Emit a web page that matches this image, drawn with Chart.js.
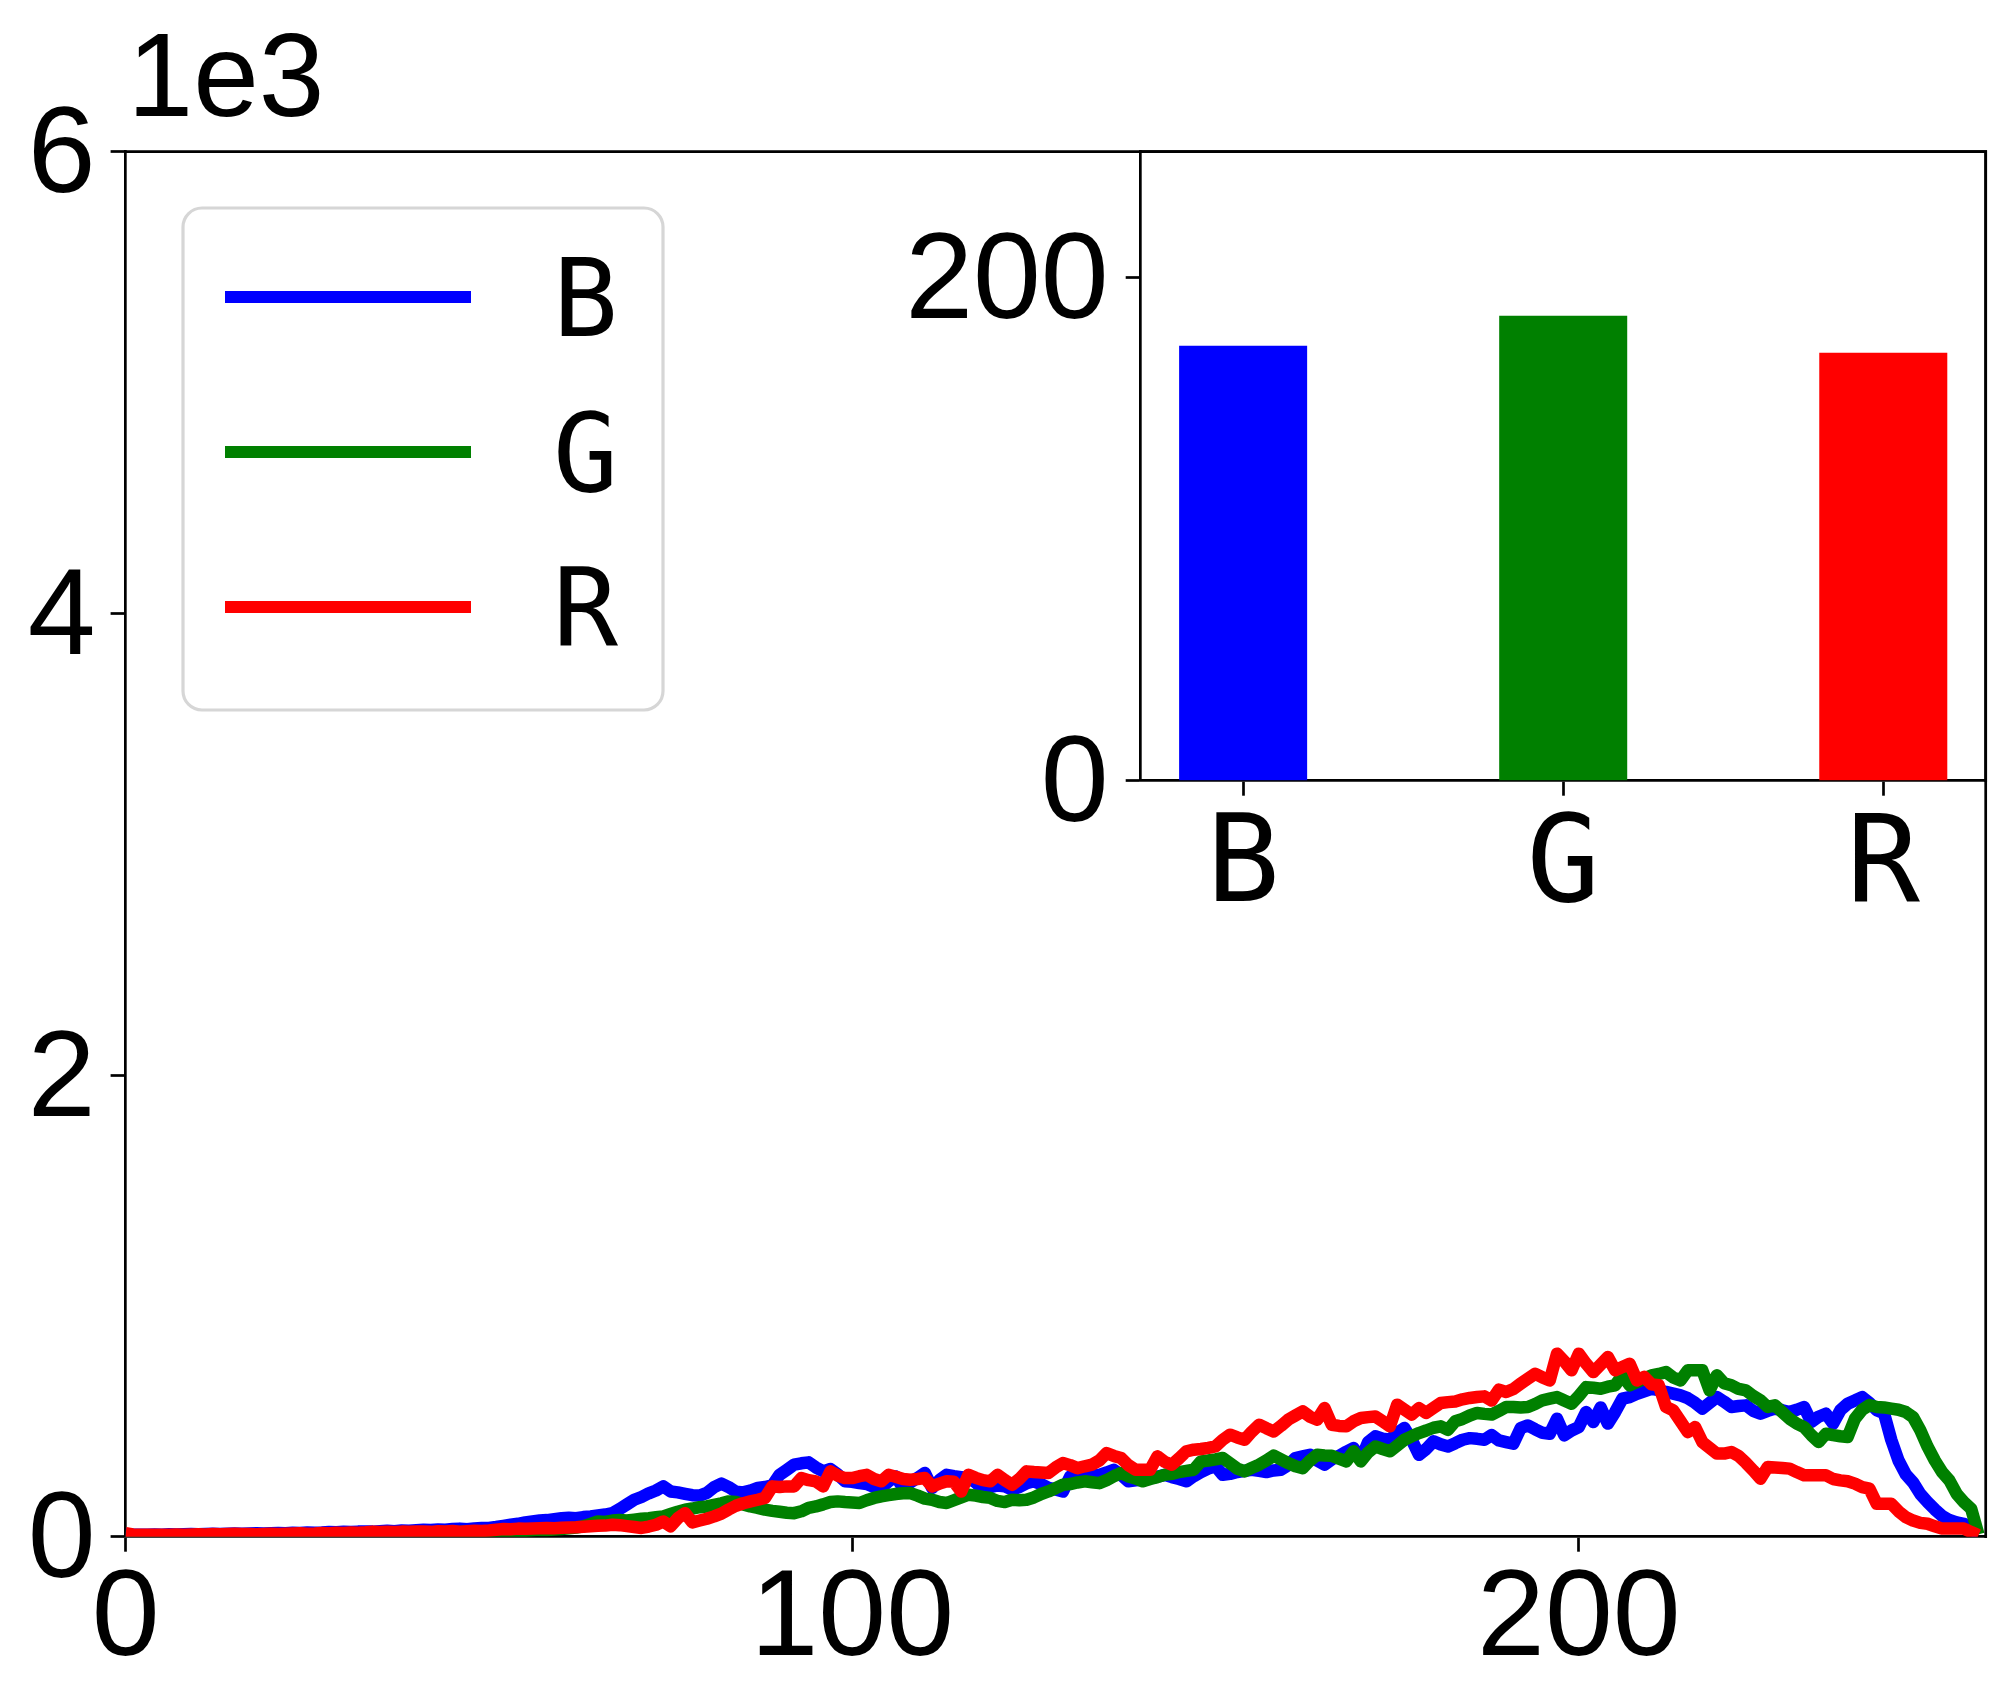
<!DOCTYPE html>
<html>
<head>
<meta charset="utf-8">
<script src="https://cdn.jsdelivr.net/npm/chart.js@4.4.1/dist/chart.umd.min.js"></script>
<style>
  body { margin: 0; background: #fff; }
  #wrap { position: relative; width: 2015px; height: 1705px; }
  #main-canvas { position: absolute; left: 0; top: 0; }
  #inset-canvas { position: absolute; left: 900px; top: 0; }
</style>
</head>
<body>
<div id="wrap">
  <canvas id="main-canvas" width="2015" height="1705"></canvas>
  <canvas id="inset-canvas" width="1115" height="1000"></canvas>
</div>
<script>
// ---------- data ----------
const channels = ['B', 'G', 'R'];
const channelColors = ['#0000ff', '#008000', '#ff0000'];

// pixel intensity bins 0..255 (x categories of the histogram)
const bins = Array.from({ length: 256 }, (_, i) => i);

const histB = [
  10, 9, 8, 9, 10, 9, 11, 10, 11, 12,
  11, 12, 13, 12, 13, 14, 13, 14, 15, 14,
  15, 16, 15, 17, 16, 18, 17, 18, 20, 19,
  21, 20, 22, 23, 22, 24, 26, 24, 27, 26,
  28, 30, 29, 31, 30, 33, 35, 32, 36, 38,
  38, 42, 47, 52, 56, 62, 66, 70, 72, 76,
  80, 82, 80, 85, 88, 92, 96, 102, 120, 140,
  160, 172, 188, 200, 218, 196, 192, 186, 180, 178,
  190, 215, 230, 215, 195, 192, 200, 211, 215, 222,
  268, 290, 312, 318, 322, 300, 283, 293, 270, 240,
  238, 232, 228, 215, 211, 240, 261, 211, 235, 255,
  276, 211, 245, 268, 262, 258, 254, 235, 204, 215,
  222, 218, 204, 215, 232, 240, 228, 212, 205, 196,
  261, 255, 262, 266, 268, 278, 290, 268, 240, 244,
  247, 252, 260, 268, 258, 250, 240, 262, 280, 295,
  305, 268, 272, 280, 285, 290, 285, 280, 287, 290,
  310, 341, 348, 355, 330, 312, 335, 350, 368, 384,
  333, 410, 435, 425, 420, 450, 471, 420, 355, 380,
  413, 400, 391, 405, 420, 427, 424, 420, 440, 417,
  410, 403, 470, 482, 465, 450, 446, 511, 439, 460,
  475, 540, 497, 560, 490, 540, 598, 605, 619, 630,
  641, 635, 627, 620, 612, 600, 580, 555, 580, 605,
  585, 562, 566, 569, 545, 533, 545, 555, 548, 540,
  550, 562, 497, 520, 533, 490, 548, 576, 590, 605,
  580, 548, 535, 420, 330, 270, 235, 185, 150, 118,
  90, 72, 62, 56, 35, 13
];

const histG = [
  5, 4, 5, 4, 5, 6, 5, 6, 5, 6,
  6, 7, 6, 7, 8, 7, 8, 7, 8, 9,
  8, 9, 10, 9, 10, 11, 10, 12, 11, 12,
  13, 12, 14, 13, 15, 14, 16, 15, 17, 16,
  18, 17, 19, 18, 20, 21, 20, 22, 21, 23,
  24, 25, 24, 26, 27, 26, 28, 30, 29, 31,
  33, 36, 40, 45, 55, 66, 64, 70, 72, 70,
  74, 78, 80, 84, 88, 98, 108, 117, 122, 128,
  131, 138, 145, 153, 150, 140, 131, 125, 117, 112,
  108, 104, 102, 110, 125, 131, 140, 150, 153, 150,
  148, 146, 158, 168, 175, 180, 185, 188, 189, 178,
  165, 160, 150, 146, 158, 170, 182, 178, 172, 168,
  155, 150, 160, 158, 160, 170, 185, 196, 210, 225,
  228, 235, 240, 236, 232, 245, 262, 276, 261, 252,
  240, 250, 258, 268, 272, 280, 285, 290, 326, 330,
  335, 341, 318, 295, 283, 298, 312, 330, 351, 335,
  319, 305, 297, 330, 355, 352, 351, 338, 326, 370,
  326, 365, 391, 380, 370, 395, 420, 435, 449, 460,
  472, 478, 463, 500, 510, 525, 536, 532, 529, 545,
  562, 562, 560, 562, 575, 591, 598, 605, 590, 576,
  610, 648, 645, 641, 650, 656, 699, 656, 670, 685,
  699, 705, 713, 690, 677, 721, 721, 721, 634, 699,
  665, 656, 640, 634, 610, 591, 562, 569, 540, 511,
  490, 475, 440, 410, 446, 440, 435, 432, 511, 550,
  570, 562, 560, 555, 550, 540, 518, 461, 390, 330,
  280, 244, 186, 150, 121, 10
];

const histR = [
  15, 10, 8, 8, 9, 8, 9, 10, 9, 10,
  11, 10, 12, 11, 12, 13, 12, 12, 11, 12,
  13, 12, 13, 14, 15, 13, 14, 16, 15, 17,
  16, 18, 17, 19, 22, 20, 21, 20, 22, 21,
  23, 22, 21, 24, 23, 25, 22, 24, 26, 25,
  27, 30, 33, 32, 35, 34, 36, 37, 38, 37,
  39, 40, 41, 43, 45, 47, 48, 52, 50, 46,
  42, 38, 44, 52, 66, 45, 80, 102, 62, 70,
  78, 88, 100, 118, 134, 145, 153, 160, 168, 218,
  215, 218, 218, 254, 245, 240, 218, 283, 265, 254,
  254, 262, 268, 250, 240, 268, 260, 250, 247, 250,
  254, 218, 230, 240, 238, 196, 268, 255, 245, 240,
  268, 245, 225, 250, 283, 280, 278, 276, 300, 319,
  310, 297, 305, 312, 330, 362, 350, 341, 310, 290,
  290, 290, 348, 325, 312, 340, 370, 377, 380, 385,
  391, 420, 442, 430, 420, 455, 485, 470, 456, 480,
  507, 525, 543, 520, 507, 557, 485, 480, 478, 500,
  514, 518, 521, 500, 478, 572, 550, 529, 557, 536,
  558, 579, 583, 586, 595, 601, 605, 608, 590, 637,
  627, 640, 663, 685, 706, 690, 677, 793, 760, 721,
  793, 750, 713, 745, 778, 721, 735, 749, 677, 692,
  660, 656, 562, 547, 500, 453, 475, 410, 385, 360,
  360, 367, 350, 320, 287, 251, 302, 300, 298, 295,
  280, 266, 266, 266, 266, 250, 244, 240, 230, 215,
  208, 143, 143, 143, 110, 85, 70, 60, 56, 45,
  35, 35, 35, 35, 20, 6
];

// mean value of each channel (inset bars)
const channelMeans = [172.9, 184.8, 170.1];

// tick values
const xTicks = [0, 100, 200];
const yTicks = [0, 2000, 4000, 6000];
const yScaleExp = 3;          // labels shown in units of 1e3
const insetYTicks = [0, 200];
const insetXTicks = [0, 1, 2];

// ---------- style ----------
const NUM_FONT = "'Liberation Sans', Arial, sans-serif";
const LETTER_FONT = "'DejaVu Sans Mono', 'Liberation Mono', monospace";
const SPINE_W = 2.7;
const TICK_LEN = 15;
const LINE_W = 12.5;

Chart.defaults.animation = false;
Chart.defaults.color = '#000';

const framePlugin = {
  id: 'frame',
  afterDraw(chart) {
    const { ctx, chartArea: a } = chart;
    ctx.save();
    ctx.strokeStyle = '#000';
    ctx.lineWidth = SPINE_W;
    ctx.lineCap = 'square';
    ctx.beginPath();
    ctx.moveTo(a.left, a.top);
    ctx.lineTo(a.right, a.top);
    ctx.lineTo(a.right, a.bottom);
    ctx.stroke();
    ctx.restore();
  }
};

// offset text "1e3" and framed legend of the main axes
const mainDecor = {
  id: 'mainDecor',
  afterDraw(chart) {
    const { ctx, chartArea: a } = chart;
    ctx.save();
    ctx.fillStyle = '#000';
    ctx.font = '118px ' + NUM_FONT;
    ctx.textAlign = 'left';
    ctx.textBaseline = 'alphabetic';
    ctx.fillText('1e' + yScaleExp, a.left + 2, 116);

    // legend
    const bx = 183, by = 208, bw = 480, bh = 502, r = 19;
    ctx.beginPath();
    ctx.roundRect(bx, by, bw, bh, r);
    ctx.fillStyle = 'rgba(255,255,255,0.8)';
    ctx.fill();
    ctx.strokeStyle = '#d6d6d6';
    ctx.lineWidth = 3.2;
    ctx.stroke();
    chart.data.datasets.forEach((ds, i) => {
      const y = 297 + i * 155;
      ctx.beginPath();
      ctx.moveTo(225, y);
      ctx.lineTo(471, y);
      ctx.strokeStyle = ds.borderColor;
      ctx.lineWidth = 12;
      ctx.stroke();
      ctx.fillStyle = '#000';
      ctx.font = '108px ' + LETTER_FONT;
      ctx.textBaseline = 'alphabetic';
      ctx.fillText(ds.label, 553, y + 39);
    });
    ctx.restore();
  }
};

function axisCommon(extra, gridExtra) {
  return Object.assign({
    z: 1,
    border: { display: true, color: '#000', width: SPINE_W },
    grid: Object.assign({
      display: true, drawOnChartArea: false, drawTicks: true,
      tickLength: TICK_LEN, tickWidth: SPINE_W, tickColor: '#000'
    }, gridExtra || {})
  }, extra);
}

// ---------- main histogram ----------
const mainCtx = document.getElementById('main-canvas').getContext('2d');
const histograms = [histB, histG, histR];

new Chart(mainCtx, {
  type: 'line',
  data: {
    labels: bins,
    datasets: channels.map((name, i) => ({
      label: name,
      data: histograms[i],
      borderColor: channelColors[i],
      borderWidth: LINE_W,
      borderJoinStyle: 'round',
      pointRadius: 0,
      tension: 0,
      fill: false,
      clip: 0,
      order: channels.length - i
    }))
  },
  options: {
    responsive: false,
    devicePixelRatio: 1,
    layout: { padding: { top: 151.7, right: 29.3, left: 0, bottom: 0 } },
    plugins: { legend: { display: false }, tooltip: { enabled: false } },
    scales: {
      x: axisCommon({
        type: 'linear', min: 0, max: 256,
        afterBuildTicks: s => { s.ticks = xTicks.map(v => ({ value: v })); },
        afterFit: s => { s.height = 1705 - 1536.7; },
        ticks: { font: { family: NUM_FONT, size: 122 }, padding: -4, maxRotation: 0, autoSkip: false }
      }),
      y: axisCommon({
        type: 'linear', min: 0, max: 6000,
        afterBuildTicks: s => { s.ticks = yTicks.map(v => ({ value: v })); },
        afterFit: s => { s.width = 125.6; },
        ticks: {
          font: { family: NUM_FONT, size: 122 }, padding: 15, labelOffset: 7,
          callback: v => v / Math.pow(10, yScaleExp)
        }
      })
    }
  },
  plugins: [framePlugin, mainDecor]
});

// ---------- inset: channel means ----------
const insetCtx = document.getElementById('inset-canvas').getContext('2d');

new Chart(insetCtx, {
  type: 'bar',
  data: {
    datasets: [{
      data: channelMeans.map((v, i) => ({ x: i, y: v })),
      backgroundColor: channelColors,
      borderWidth: 0,
      barPercentage: 0.4,
      categoryPercentage: 1.0
    }]
  },
  options: {
    responsive: false,
    devicePixelRatio: 1,
    layout: { padding: { top: 151.7, right: 29.3, left: 0, bottom: 0 } },
    plugins: { legend: { display: false }, tooltip: { enabled: false } },
    scales: {
      x: axisCommon({
        type: 'linear', min: -0.32, max: 2.32, offset: false,
        afterBuildTicks: s => { s.ticks = insetXTicks.map(v => ({ value: v })); },
        afterFit: s => { s.height = 1000 - 780.7; },
        ticks: {
          font: { family: LETTER_FONT, size: 122 }, padding: 0, maxRotation: 0, autoSkip: false,
          callback: v => channels[v]
        }
      }, { offset: false }),
      y: axisCommon({
        type: 'linear', min: 0, max: 250,
        afterBuildTicks: s => { s.ticks = insetYTicks.map(v => ({ value: v })); },
        afterFit: s => { s.width = 1140.7 - 900; },
        ticks: { font: { family: NUM_FONT, size: 122 }, padding: 17, labelOffset: 7 }
      })
    }
  },
  plugins: [framePlugin]
});
</script>
</body>
</html>
